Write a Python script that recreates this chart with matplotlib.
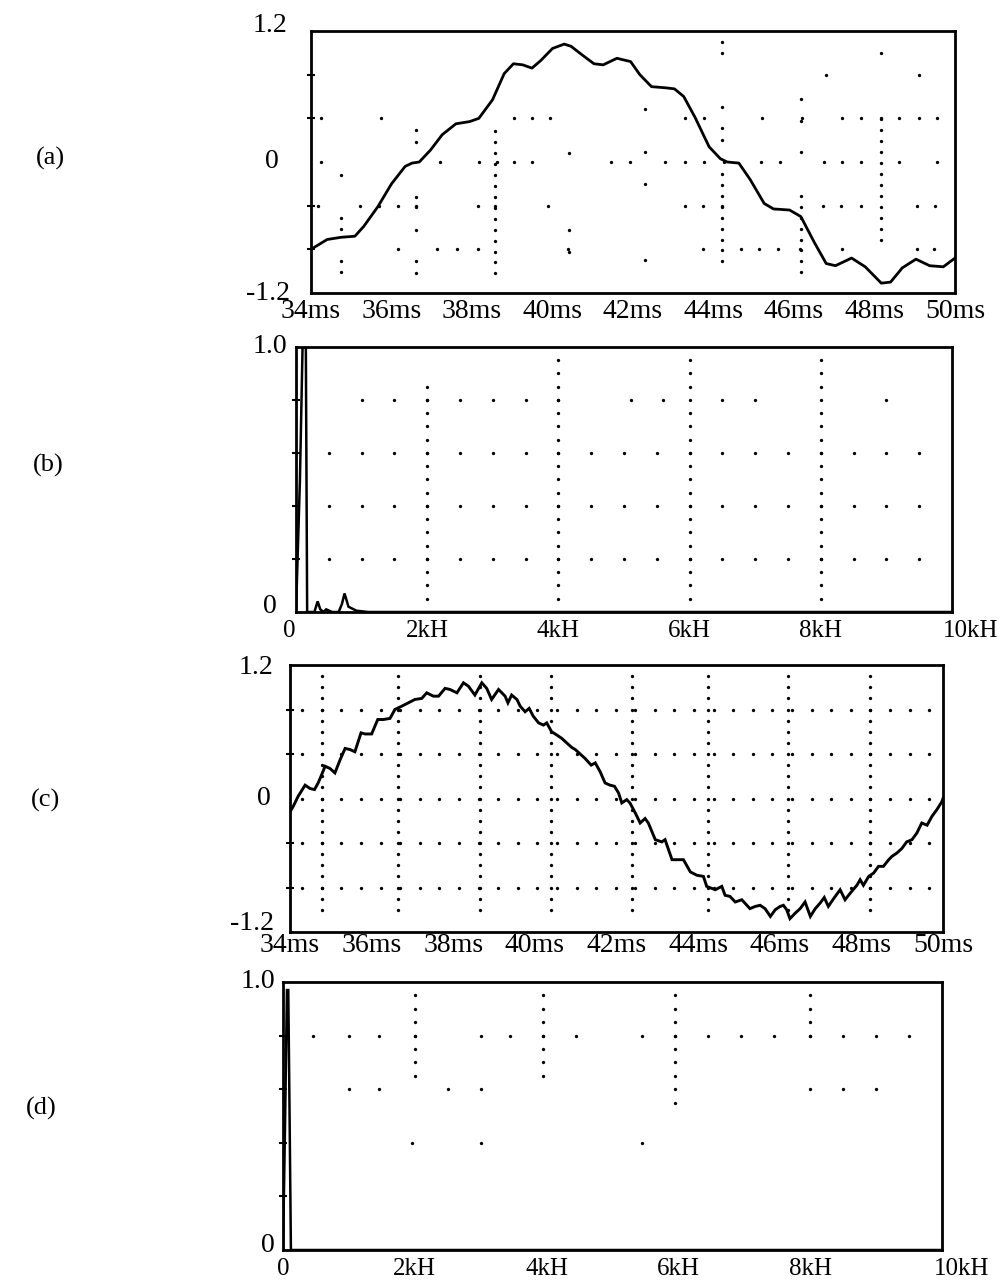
import matplotlib.pyplot as plt
import numpy as np
from matplotlib.transforms import ScaledTranslation

plt.rcParams["font.family"] = ["Liberation Serif", "DejaVu Serif"]

# (a) time signal, 34..50 ms
t_a = [34.0, 34.4, 34.74, 35.09, 35.31, 35.66, 36.0, 36.34, 36.51, 36.69,
       36.97, 37.26, 37.6, 37.94, 38.17, 38.51, 38.8, 39.03, 39.26, 39.49,
       39.71, 40.0, 40.29, 40.46, 40.74, 41.03, 41.26, 41.6, 41.94, 42.17,
       42.46, 42.8, 43.03, 43.26, 43.54, 43.89, 44.17, 44.34, 44.63, 44.91,
       45.26, 45.49, 45.89, 46.17, 46.51, 46.8, 47.03, 47.43, 47.77, 48.17,
       48.4, 48.69, 49.03, 49.37, 49.71, 50.0]
v_a = [-0.80, -0.71, -0.69, -0.68, -0.59, -0.41, -0.20, -0.04, -0.01, 0.00,
       0.11, 0.25, 0.35, 0.37, 0.40, 0.57, 0.81, 0.90, 0.89, 0.86,
       0.93, 1.04, 1.08, 1.06, 0.98, 0.90, 0.89, 0.95, 0.92, 0.80,
       0.69, 0.68, 0.67, 0.60, 0.41, 0.14, 0.03, 0.00, -0.01, -0.16,
       -0.38, -0.43, -0.44, -0.50, -0.74, -0.93, -0.95, -0.88, -0.96, -1.11,
       -1.10, -0.97, -0.89, -0.95, -0.96, -0.88]

# (b) spectrum of (a), kHz
f_b = [0.00, 0.06, 0.10, 0.15, 0.17, 0.20, 0.28, 0.33, 0.37, 0.42, 0.46,
       0.55, 0.65, 0.70, 0.74, 0.80, 0.92, 1.10, 10.0]
a_b = [0.00, 0.50, 1.00, 1.00, 0.00, 0.00, 0.00, 0.04, 0.01, 0.00, 0.01,
       0.00, 0.00, 0.03, 0.07, 0.02, 0.005, 0.00, 0.00]

# (c) time signal with ripple
t_c = [34.00, 34.08, 34.20, 34.37, 34.49, 34.60, 34.69, 34.76, 34.86, 34.98,
       35.10, 35.23, 35.35, 35.47, 35.59, 35.74, 35.84, 36.00, 36.15, 36.29,
       36.45, 36.57, 36.74, 36.90, 37.06, 37.23, 37.35, 37.51, 37.64, 37.80,
       37.92, 38.09, 38.25, 38.37, 38.53, 38.70, 38.82, 38.94, 39.11, 39.27,
       39.34, 39.43, 39.56,
       39.64, 39.76, 39.86, 39.96, 40.09, 40.21, 40.29, 40.41, 40.54, 40.66,
       40.78, 40.90, 40.99, 41.11, 41.23, 41.38, 41.48, 41.60, 41.72, 41.84,
       41.95, 42.05, 42.13, 42.25, 42.33, 42.46, 42.58, 42.70, 42.78, 42.95,
       43.11, 43.19, 43.36, 43.52, 43.64, 43.81, 43.97, 44.13, 44.21, 44.42,
       44.58, 44.66, 44.78, 44.91, 45.07,
       45.27, 45.40, 45.52, 45.64, 45.77, 45.89, 46.01, 46.09, 46.17, 46.25,
       46.38, 46.50, 46.62, 46.75, 46.87, 46.99, 47.09, 47.19, 47.32, 47.48,
       47.60, 47.73, 47.89, 47.97, 48.05, 48.18, 48.30, 48.42, 48.54, 48.67,
       48.75, 48.87, 48.99, 49.11, 49.24, 49.36, 49.48, 49.61, 49.73, 49.85,
       49.97, 50.0]
v_c = [-0.12, -0.07, 0.02, 0.12, 0.09, 0.08, 0.14, 0.20, 0.29, 0.27,
       0.23, 0.35, 0.45, 0.44, 0.42, 0.59, 0.58, 0.58, 0.71, 0.71,
       0.72, 0.80, 0.83, 0.86, 0.89, 0.90, 0.95, 0.92, 0.92, 0.99,
       0.98, 0.95, 1.04, 1.01, 0.93, 1.04, 0.99, 0.89, 0.98, 0.92,
       0.86, 0.93, 0.89,
       0.83, 0.78, 0.81, 0.74, 0.68, 0.66, 0.68, 0.60, 0.57, 0.54,
       0.50, 0.46, 0.44, 0.40, 0.36, 0.30, 0.32, 0.24, 0.14, 0.12,
       0.11, 0.05, -0.04, -0.01, -0.04, -0.13, -0.22, -0.18, -0.22, -0.37,
       -0.39, -0.37, -0.55, -0.55, -0.55, -0.66, -0.69, -0.70, -0.79, -0.82,
       -0.79, -0.87, -0.88, -0.93, -0.91,
       -0.99, -0.97, -0.96, -0.99, -1.06, -1.00, -0.97, -0.96, -1.00, -1.08,
       -1.03, -0.99, -0.93, -1.06, -0.99, -0.94, -0.89, -0.97, -0.90, -0.82,
       -0.91, -0.85, -0.78, -0.73, -0.78, -0.70, -0.67, -0.61, -0.61, -0.55,
       -0.52, -0.49, -0.45, -0.39, -0.37, -0.31, -0.22, -0.24, -0.16, -0.10,
       -0.03, 0.00]

# (d) spectrum of (c), kHz
f_d = [0.00, 0.03, 0.06, 0.08, 0.10, 0.12, 10.0]
a_d = [0.00, 0.45, 0.97, 0.97, 0.50, 0.00, 0.00]

time_ticks = list(range(34, 51, 2))
time_labels = [f"{t}ms" for t in time_ticks]
freq_ticks = [0, 2, 4, 6, 8, 10]
freq_labels = ["0", "2kH", "4kH", "6kH", "8kH", "10kH"]

W, H = 1003, 1288
fig = plt.figure(figsize=(W / 100, H / 100), dpi=100)


def box(left, top, right, bottom):
    return [left / W, 1 - bottom / H, (right - left) / W, (bottom - top) / H]


def dots(ax, xs, ys):
    ax.plot(xs, ys, ls="none", marker="o", ms=2.4, mfc="k", mec="none", zorder=1)


def frame(ax):
    for s in ax.spines.values():
        s.set_linewidth(2.0)
    ax.tick_params(axis="x", length=0, labelsize=20, pad=3)
    ax.tick_params(axis="y", which="major", left=False, labelleft=False)
    ax.tick_params(axis="y", which="minor", direction="inout", length=6, width=1.5)


def shift(text, dx_px, dy_px=0):
    text.set_transform(text.get_transform() +
                       ScaledTranslation(dx_px / 100, dy_px / 100, fig.dpi_scale_trans))


def ylab(ax, y, s, dx, dy=0):
    t = ax.text(dx, y, s, transform=ax.get_yaxis_transform(), ha="right",
                va="center", fontsize=20)
    if dy:
        shift(t, 0, dy)


def last_label_right(ax, dx_px):
    lbl = ax.get_xticklabels()
    lbl[-1].set_horizontalalignment("right")
    shift(lbl[-1], dx_px)
    return lbl


# ---- (a)
ax = fig.add_axes(box(311, 31, 955, 293))
ax.set_xlim(34, 50)
ax.set_ylim(-1.2, 1.2)
# sparse dotted graticule
cols_a = {34.74: [-0.12, -0.51, -0.61, -0.91, -1.01],
          36.6: [0.29, 0.18, -0.32, -0.41, -0.62, -0.91, -1.02],
          38.57: list(np.arange(-1.02, 0.30, 0.1)),
          40.4: [0.08, -0.62, -0.82],
          42.3: [0.49, 0.09, -0.2, -0.9],
          44.2: [1.1, 1.0, 0.5, 0.31, 0.2] + list(np.arange(-0.91, -0.1, 0.1)),
          46.17: [0.58, 0.38, 0.09] + list(np.arange(-1.01, -0.3, 0.1)),
          48.15: [1.0] + list(np.arange(-0.71, 0.40, 0.1))}
for c, vs in cols_a.items():
    dots(ax, [c] * len(vs), vs)
rows_a = {0.8: [46.8, 49.1],
          0.4: [34.26, 35.75, 39.05, 39.49, 39.94, 43.3, 43.77, 45.2, 46.2,
                47.2, 47.66, 48.17, 48.6, 49.1, 49.56],
          0.0: [34.26, 37.2, 38.17, 38.63, 39.05, 39.49, 41.46, 41.92, 42.8,
                43.3, 43.77, 44.26, 45.18, 45.66, 46.74, 47.2, 47.66, 48.6, 49.56],
          -0.4: [34.17, 35.22, 35.68, 36.15, 36.6, 38.15, 38.57, 39.9, 43.28,
                 43.74, 44.2, 46.71, 47.18, 47.66, 49.05, 49.5],
          -0.8: [36.15, 37.14, 37.63, 38.14, 40.38, 43.74, 44.69, 45.14, 45.6,
                 46.14, 47.2, 49.06, 49.49]}
for r, ts in rows_a.items():
    dots(ax, ts, [r] * len(ts))
ax.plot(t_a, v_a, color="k", lw=2.0, solid_joinstyle="round",
        solid_capstyle="round", zorder=3)
ax.set_xticks(time_ticks, time_labels)
ax.set_yticks([-1.2, 0, 1.2])
ax.set_yticks([-0.8, -0.4, 0.4, 0.8], minor=True)
frame(ax)
ax.tick_params(axis="x", pad=4)
ylab(ax, 1.2, "1.2", -0.037, dy=6)
ylab(ax, 0.0, "0", -0.05)
ylab(ax, -1.2, "-1.2", -0.033)

# ---- (b)
ax = fig.add_axes(box(296, 347, 952, 612))
ax.set_xlim(0, 10)
ax.set_ylim(0, 1)
for r in [0.2, 0.4, 0.6]:
    xs = np.arange(0.5, 9.6, 0.5)
    dots(ax, xs, [r] * len(xs))
xs = [1.0, 1.5, 2.0, 2.5, 3.0, 3.5, 4.0, 5.1, 5.6, 6.5, 7.0, 9.0]
dots(ax, xs, [0.8] * len(xs))
for c, top in [(2, 0.85), (4, 0.95), (6, 0.95), (8, 0.95)]:
    ys = np.arange(0.05, top + 0.01, 0.05)
    dots(ax, [c] * len(ys), ys)
ax.plot(f_b, a_b, color="k", lw=1.8, solid_joinstyle="miter", zorder=3)
ax.set_xticks(freq_ticks, freq_labels)
ax.set_yticks([0, 1])
ax.set_yticks([0.2, 0.4, 0.6, 0.8], minor=True)
frame(ax)
ax.tick_params(axis="x", labelsize=18, pad=6)
lbl = last_label_right(ax, 46)
shift(lbl[0], -7)
ylab(ax, 1.0, "1.0", -0.013)
ylab(ax, 0.0, "0", -0.03, dy=5)

# ---- (c)
ax = fig.add_axes(box(290, 665, 943, 932))
ax.set_xlim(34, 50)
ax.set_ylim(-1.2, 1.2)
cols_c = [34.78, 36.64, 38.66, 40.4, 42.37, 44.25, 46.2, 48.2]
ys = np.arange(-1.0, 1.11, 0.1)
for c in cols_c:
    dots(ax, [c] * len(ys), ys)
xs = np.arange(34.3, 49.8, 0.48)
for r in [-0.8, -0.4, 0.0, 0.4, 0.8]:
    dots(ax, xs, [r] * len(xs))
ax.plot(t_c, v_c, color="k", lw=2.1, solid_joinstyle="miter", zorder=3)
ax.set_xticks(time_ticks, time_labels)
ax.set_yticks([-1.2, 0, 1.2])
ax.set_yticks([-0.8, -0.4, 0.4, 0.8], minor=True)
frame(ax)
ax.tick_params(axis="x", pad=1)
ylab(ax, 1.2, "1.2", -0.025, dy=-3)
ylab(ax, 0.0, "0", -0.03)
ylab(ax, -1.2, "-1.2", -0.025, dy=8)

# ---- (d)
ax = fig.add_axes(box(283, 982, 942, 1250))
ax.set_xlim(0, 10)
ax.set_ylim(0, 1)
xs = [0.45, 1.0, 1.45, 2.0, 3.0, 3.45, 3.95, 4.45, 5.45, 5.95, 6.45, 6.95,
      7.45, 8.0, 8.5, 9.0, 9.5]
dots(ax, xs, [0.8] * len(xs))
xs = [1.0, 1.45, 2.5, 3.0, 8.0, 8.5, 9.0]
dots(ax, xs, [0.6] * len(xs))
xs = [1.95, 3.0, 5.45]
dots(ax, xs, [0.4] * len(xs))
for c, lo in [(2.0, 0.65), (3.95, 0.65), (5.95, 0.55), (8.0, 0.8)]:
    ys = np.arange(lo, 0.96, 0.05)
    dots(ax, [c] * len(ys), ys)
ax.plot(f_d, a_d, color="k", lw=1.8, solid_joinstyle="miter", zorder=3)
ax.set_xticks(freq_ticks, freq_labels)
ax.set_yticks([0, 1])
ax.set_yticks([0.2, 0.4, 0.6, 0.8], minor=True)
frame(ax)
ax.tick_params(axis="x", labelsize=18, pad=6)
last_label_right(ax, 47)
ylab(ax, 1.0, "1.0", -0.012)
ylab(ax, 0.0, "0", -0.012, dy=5)

# panel letters
for s, x, y in [("(a)", 50, 158), ("(b)", 48, 465), ("(c)", 45, 800), ("(d)", 41, 1108)]:
    fig.text(x / W, 1 - y / H, s, ha="center", va="center", fontsize=19)

fig.savefig("out.png", dpi=100)
